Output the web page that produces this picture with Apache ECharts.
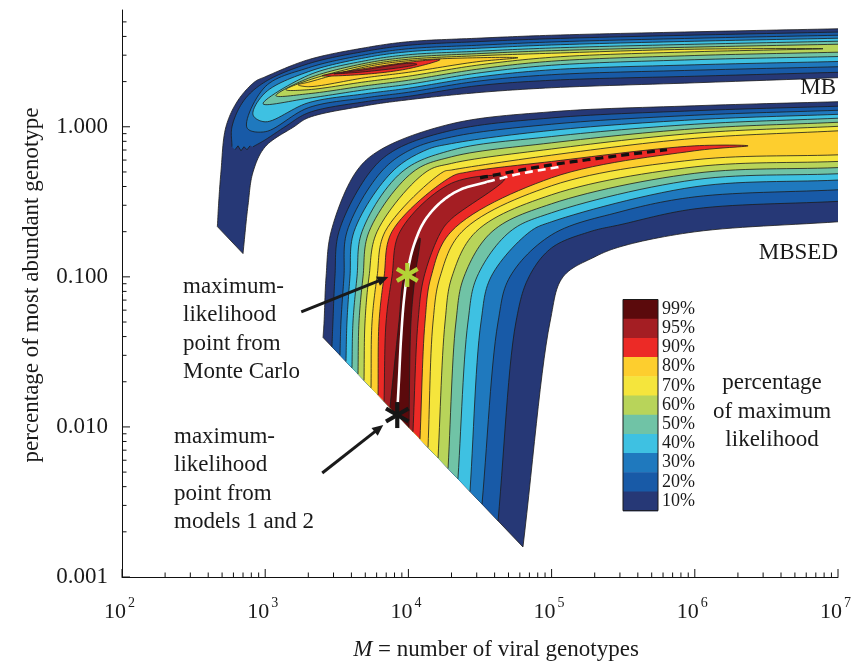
<!DOCTYPE html>
<html>
<head>
<meta charset="utf-8">
<script src="https://cdn.jsdelivr.net/npm/echarts@6/dist/echarts.min.js"></script>
<style>html,body{margin:0;padding:0;background:#fff}#c{width:861px;height:666px}</style>
</head>
<body>
<div id="c"></div>
<script>
// ================= DATA =================
const levelLabels = ['10%','20%','30%','40%','50%','60%','70%','80%','90%','95%','99%'];
const levelColors = ['#263876','#185aa7','#1f79be','#3ec1e2','#70c3a6','#b8d45a','#f5e53c','#fdce2e','#ec2a26','#a41e23','#5b0a0c'];

const xTickExponents = [2,3,4,5,6,7];
const yTickValues = [0.001,0.01,0.1,1];
const yTickLabels = ['0.001','0.010','0.100','1.000'];

// lower-left cut of both regions: M * p = 100
const cutProduct = 100;

// ---- MBSED region (rows: log10 M at fixed p ; columns: log10 p at fixed M) ----
const mbsedL_diag = [3.404,3.466,3.522,3.564,3.606,3.648,3.690,3.739,3.788,3.830];
const mbsedL_p005 = [3.411,3.473,3.529,3.571,3.613,3.655,3.697,3.746,3.795,3.844];
const mbsedL_p01  = [3.425,3.487,3.550,3.592,3.641,3.683,3.725,3.781,3.830,3.885];
const mbsedL_p02  = [3.460,3.515,3.571,3.620,3.676,3.725,3.781,3.837,3.885,3.941];
const mbsedL_p05  = [3.634,3.732,3.809,3.885,3.955,4.032,4.123,4.242,4.416,null];
const mbsedL_p07  = [3.802,3.906,4.011,4.123,null,null,null,null,null,null];
const mbsedL_M2e4 = [0.020,-0.024,-0.068,-0.112,-0.156,-0.200,-0.244,-0.288,-0.332,-0.376];
const mbsedL_M1e5 = [0.100,0.059,0.017,-0.024,-0.065,-0.107,-0.148,-0.189,-0.231,null];
const mbsedL_M1e6 = [0.140,0.107,0.077,0.047,0.017,-0.013,-0.043,-0.077,-0.127,null];
const mbsedL_M1e7 = [0.167,0.137,0.110,0.083,0.057,0.030,0.003,-0.027,null,null];
const mbsedR_diag = [4.800,4.626,4.514,4.430,4.346,4.277,4.207,4.137,4.081,4.032];
const mbsedR_p005 = [4.989,4.751,4.626,4.507,4.416,4.332,4.256,4.172,4.116,4.067];
const mbsedR_p01  = [5.080,4.842,4.709,4.577,4.479,4.388,4.304,4.221,4.158,4.109];
const mbsedR_p02  = [null,5.268,null,4.849,4.709,4.584,4.472,4.374,4.298,4.228];
const mbsedR_M2e4 = [null,null,null,null,null,null,null,null,null,-0.613];
const mbsedR_M1e5 = [null,-0.807,-0.720,-0.633,-0.573,-0.513,-0.453,-0.393,-0.340,null];
const mbsedR_M2e5 = [-0.867,null,null,null,null,null,null,null,null,null];
const mbsedR_M3e5 = [-0.800,-0.653,-0.567,null,null,null,null,null,null,null];
const mbsedR_M1e6 = [-0.700,-0.547,-0.467,-0.400,-0.353,-0.310,-0.267,-0.220,-0.160,null];
const mbsedR_M1e7 = [-0.633,-0.497,-0.420,-0.355,-0.313,-0.272,-0.231,-0.187,null,null];
const mbsed99_diag = [3.871,4.004];
const mbsed99_p005 = [3.934,4.018];
const mbsed99_p01  = [3.969,4.046];
const mbsedTip90 = [6.372,-0.127];
const mbsedTip95 = [4.675,-0.340];
const mbsedTip99 = [4.081,-0.740];
const ridgeSolid  = [[3.920,-1.94],[3.934,-1.687],[3.948,-1.42],[3.969,-1.153],[3.997,-0.953],[4.039,-0.787],[4.109,-0.633],[4.221,-0.507],[4.360,-0.42],[4.549,-0.367]];
const ridgeWhiteDash = [[4.549,-0.367],[4.779,-0.313],[5.059,-0.267]];
const ridgeBlackDash = [[4.500,-0.340],[4.954,-0.260],[5.408,-0.200],[5.806,-0.153]];
const mlMonteCarlo = [9820, 0.103];
const mlModels = [8360, 0.012];

// ---- MB region ----
const mbCols = [3, 3.301, 3.699, 4, 4.477, 5, 6, 7];          // log10 M
const mbTopTail = [[2.666,-0.665],[2.674,-0.523],[2.691,-0.301],[2.726,0],[2.810,0.176],[2.929,0.301]];
const mbTop     = [0.333,0.447,0.527,0.567,0.590,0.610,0.633,0.653];
const mbBotTail = [[2.845,-0.845],[2.880,-0.523],[2.915,-0.301],[3,-0.133],[3.201,0]];
const mbBot     = [null,0.06,0.14,0.18,0.227,0.26,0.293,0.327];
const mb20TopTail = [[2.768,-0.133],[2.768,0],[2.852,0.176]];
const mb20Top     = [0.30,0.42,0.503,0.543,0.567,0.587,0.611,0.631];
const mb20BotTail = [[2.915,-0.133],[3,-0.087],[3.138,0]];
const mb20Bot     = [null,0.093,0.167,0.203,0.273,0.31,0.337,0.363];
const mb20Jag = [[2.894,-0.127],[2.873,-0.153],[2.852,-0.133],[2.831,-0.16],[2.810,-0.127],[2.789,-0.153]];
const mbUpper = {
  2:[0.267,0.393,0.48,0.52,0.543,0.565,0.59,0.61],
  3:[0.227,0.367,0.46,0.50,0.523,0.545,0.57,0.59],
  4:[null,0.343,0.44,0.48,0.503,0.525,0.55,0.57],
  5:[null,0.323,0.423,0.463,0.487,0.507,0.531,0.55],
  6:[null,0.31,0.41,0.45,0.473,0.49,0.517,null],
  7:[null,0.297,0.399,0.44,0.46,null,null,null],
  8:[null,null,0.389,0.43,null,null,null,null],
  9:[null,null,0.381,0.423,null,null,null,null]
};
const mbLower = {
  2:[-0.033,0.127,0.193,0.23,0.303,0.347,0.377,0.40],
  3:[0.033,0.16,0.22,0.257,0.33,0.38,0.413,0.435],
  4:[null,0.19,0.247,0.283,0.357,0.41,0.447,0.468],
  5:[null,0.22,0.273,0.31,0.383,0.437,0.475,0.497],
  6:[null,0.247,0.30,0.337,0.41,0.463,0.50,null],
  7:[null,0.267,0.327,0.363,0.433,null,null,null],
  8:[null,null,0.35,0.387,null,null,null,null],
  9:[null,null,0.367,0.403,null,null,null,null]
};
const mbTipLeft  = {2:[2.873,-0.007],3:[2.915,0.08],4:[2.985,0.153],5:[3.075,0.207],6:[3.145,0.247],7:[3.229,0.28],8:[3.397,0.34],9:[3.480,0.353]};
const mbTipRight = {6:[6.895,0.52],7:[4.765,0.46],8:[4.221,0.447],9:[4.060,0.417]};

// ================= GEOMETRY BUILDING =================
const L10 = Math.log10;
const cutSum = L10(cutProduct);
function colPts(cols, arr) { const o = []; arr.forEach((v,i) => { if (v != null) o.push([cols[i], v]); }); return o; }
function sortAlong(p) { return p.sort((a,b) => (a[0]+a[1]) - (b[0]+b[1])); }
function mbsedCurve(k, side) {
  const S = side === 'L'
    ? {d:mbsedL_diag, rows:[[mbsedL_p005,L10(0.05)],[mbsedL_p01,L10(0.1)],[mbsedL_p02,L10(0.2)],[mbsedL_p05,L10(0.5)],[mbsedL_p07,L10(0.7)]],
       cols:[[mbsedL_M2e4,L10(2e4)],[mbsedL_M1e5,5],[mbsedL_M1e6,6],[mbsedL_M1e7,7]]}
    : {d:mbsedR_diag, rows:[[mbsedR_p005,L10(0.05)],[mbsedR_p01,L10(0.1)],[mbsedR_p02,L10(0.2)]],
       cols:[[mbsedR_M2e4,L10(2e4)],[mbsedR_M1e5,5],[mbsedR_M2e5,L10(2e5)],[mbsedR_M3e5,L10(3e5)],[mbsedR_M1e6,6],[mbsedR_M1e7,7]]};
  const p = [[S.d[k], cutSum - S.d[k]]];
  S.rows.forEach(([a,lp]) => { if (a[k] != null) p.push([a[k], lp]); });
  S.cols.forEach(([a,lm]) => { if (a[k] != null) p.push([lm, a[k]]); });
  return sortAlong(p);
}
const regions = [];
regions.push({level:0, parts:[{pts: mbTopTail.concat(colPts(mbCols, mbTop))}, {pts: mbBotTail.concat(colPts(mbCols, mbBot)).reverse()}], diag:true});
regions.push({level:1, parts:[{pts: mb20TopTail.concat(colPts(mbCols, mb20Top))}, {pts: mb20BotTail.concat(colPts(mbCols, mb20Bot)).reverse()}, {pts: mb20Jag, straight:true}]});
for (let k = 2; k <= 9; k++) {
  const U = colPts(mbCols, mbUpper[k]), W = colPts(mbCols, mbLower[k]);
  if (mbTipRight[k]) regions.push({level:k, parts:[{pts:[mbTipLeft[k]].concat(U, [mbTipRight[k]], W.slice().reverse()), closed:true}]});
  else regions.push({level:k, parts:[{pts: W.slice().reverse().concat([mbTipLeft[k]], U)}]});
}
for (let k = 0; k <= 9; k++) {
  const Lc = mbsedCurve(k,'L'), Rc = mbsedCurve(k,'R');
  const tip = k === 8 ? mbsedTip90 : (k === 9 ? mbsedTip95 : null);
  if (tip) regions.push({level:k, parts:[{pts: Lc.concat([tip], Rc.slice().reverse())}], diag: k === 0});
  else regions.push({level:k, parts:[{pts: Lc}, {pts: Rc.slice().reverse()}], diag: k === 0});
}
{
  const Lc = [[mbsed99_diag[0], cutSum - mbsed99_diag[0]],[mbsed99_p005[0],L10(0.05)],[mbsed99_p01[0],-1]];
  const Rc = [[mbsed99_diag[1], cutSum - mbsed99_diag[1]],[mbsed99_p005[1],L10(0.05)],[mbsed99_p01[1],-1]];
  regions.push({level:10, parts:[{pts: Lc.concat([mbsedTip99], Rc.slice().reverse())}]});
}

function smooth(pts, closed, seg) {
  const n = pts.length;
  if (n < 3) return pts.slice();
  const get = (i) => {
    if (closed) return pts[(i + n) % n];
    if (i < 0) return [2*pts[0][0]-pts[1][0], 2*pts[0][1]-pts[1][1]];
    if (i >= n) return [2*pts[n-1][0]-pts[n-2][0], 2*pts[n-1][1]-pts[n-2][1]];
    return pts[i];
  };
  const dd = (a,b) => Math.max(1e-3, Math.sqrt(Math.hypot(b[0]-a[0], b[1]-a[1])));
  const out = [];
  const spans = closed ? n : n - 1;
  for (let i = 0; i < spans; i++) {
    const p0 = get(i-1), p1 = get(i), p2 = get(i+1), p3 = get(i+2);
    const t0 = 0, t1 = dd(p0,p1), t2 = t1 + dd(p1,p2), t3 = t2 + dd(p2,p3);
    for (let j = 0; j < seg; j++) {
      const t = t1 + (t2 - t1) * j / seg;
      const lp = (a,b,ta,tb) => { const w = (t-ta)/(tb-ta); return [a[0]+(b[0]-a[0])*w, a[1]+(b[1]-a[1])*w]; };
      const A1 = lp(p0,p1,t0,t1), A2 = lp(p1,p2,t1,t2), A3 = lp(p2,p3,t2,t3);
      const B1 = lp(A1,A2,t0,t2), B2 = lp(A2,A3,t1,t3);
      out.push(lp(B1,B2,t1,t2));
    }
  }
  if (!closed) out.push(pts[n-1]);
  return out;
}
function px(api, p) { return api.coord([Math.pow(10, p[0]), Math.pow(10, p[1])]); }

const LINE = '#1c1c1c';
function renderRegion(params, api) {
  const r = regions[api.value(2)];
  const children = [];
  let poly = [];
  const strokes = [];
  r.parts.forEach(part => {
    const p = part.pts.map(q => px(api, q));
    const dense = part.straight ? p : smooth(p, !!part.closed, 14);
    poly = poly.concat(dense);
    strokes.push({pts: dense, closed: !!part.closed});
  });
  children.push({type:'polygon', shape:{points: poly}, style:{fill: levelColors[r.level], stroke: 'none'}, z2: r.level*2});
  strokes.forEach(s => children.push({type: s.closed ? 'polygon' : 'polyline', shape:{points: s.pts}, style:{fill:'none', stroke: LINE, lineWidth: 0.8}, z2: r.level*2 + 1}));
  if (r.diag) {
    const first = r.parts[0].pts[0], lastPart = r.parts[r.parts.length-1].pts, last = lastPart[lastPart.length-1];
    children.push({type:'line', shape:{x1: px(api,first)[0], y1: px(api,first)[1], x2: px(api,last)[0], y2: px(api,last)[1]}, style:{stroke: LINE, lineWidth: 0.8}, z2: 1});
  }
  return {type:'group', children};
}

const ridgeSets = [
  {pts: ridgeSolid, color:'#ffffff', width:2.6, dash:null},
  {pts: ridgeWhiteDash, color:'#ffffff', width:2.6, dash:[8,5]},
  {pts: ridgeBlackDash, color:'#111111', width:3.2, dash:[8,5]}
];
function renderRidge(params, api) {
  const s = ridgeSets[api.value(2)];
  const pts = smooth(s.pts.map(q => px(api,q)), false, 14);
  const style = {fill:'none', stroke: s.color, lineWidth: s.width};
  if (s.dash) style.lineDash = s.dash;
  return {type:'polyline', shape:{points: pts}, style};
}

const markerData = [[mlMonteCarlo[0], mlMonteCarlo[1], 0], [mlModels[0], mlModels[1], 1]];
function renderMarker(params, api) {
  const c = api.coord([api.value(0), api.value(1)]);
  const kind = api.value(2);
  const color = kind === 0 ? '#b4d336' : '#161616';
  const R = kind === 0 ? 12 : 13;
  const ch = [];
  [90, 30, -30].forEach(a => {
    const r = a * Math.PI / 180;
    ch.push({type:'line', shape:{x1:c[0]-R*Math.cos(r), y1:c[1]-R*Math.sin(r), x2:c[0]+R*Math.cos(r), y2:c[1]+R*Math.sin(r)}, style:{stroke:color, lineWidth: 4.2}});
  });
  const tip = kind === 0 ? [c[0]-19, c[1]+2] : [c[0]-14, c[1]+10];
  const tail = kind === 0 ? [c[0]-106, c[1]+37] : [c[0]-75, c[1]+58];
  const dx = tip[0]-tail[0], dy = tip[1]-tail[1], L = Math.hypot(dx,dy), ux = dx/L, uy = dy/L;
  const hl = 11, hw = 5;
  const base = [tip[0]-ux*hl, tip[1]-uy*hl];
  ch.push({type:'line', shape:{x1:tail[0], y1:tail[1], x2:base[0]+ux*2, y2:base[1]+uy*2}, style:{stroke:'#1a1a1a', lineWidth:3}});
  ch.push({type:'polygon', shape:{points:[tip, [base[0]-uy*hw, base[1]+ux*hw], [base[0]+uy*hw, base[1]-ux*hw]]}, style:{fill:'#1a1a1a'}});
  return {type:'group', children: ch};
}

const minorMantissas = [2,3,4,5,6,7,8,9];
const tickData = [];
xTickExponents.forEach(e => tickData.push([Math.pow(10,e), 0.001, 0]));
xTickExponents.slice(0,-1).forEach(e => minorMantissas.forEach(m => tickData.push([m*Math.pow(10,e), 0.001, 1])));
yTickValues.forEach(v => tickData.push([100, v, 2]));
yTickValues.slice(0,-1).forEach(v => minorMantissas.forEach(m => tickData.push([100, m*v, 3])));
[2,3,4,5].forEach(m => tickData.push([100, m, 3]));
function renderTick(params, api) {
  const c = api.coord([api.value(0), api.value(1)]);
  const k = api.value(2);
  const len = (k === 0 || k === 2) ? 8 : 4.5;
  const shape = k < 2 ? {x1:c[0], y1:c[1], x2:c[0], y2:c[1]-len} : {x1:c[0], y1:c[1], x2:c[0]+len, y2:c[1]};
  return {type:'line', shape, style:{stroke:'#111', lineWidth:1}};
}

const FONT = 'Liberation Serif';
const TXT = '#1a1a1a';
const xLabelData = xTickExponents.map(e => [Math.pow(10,e), 0.001, e]);
function renderXLabel(params, api) {
  const c = api.coord([api.value(0), api.value(1)]);
  const e = api.value(2);
  return {type:'group', children:[
    {type:'text', style:{text:'10', x:c[0]-7, y:c[1]+35, font:'22px ' + FONT, fill:TXT, textAlign:'center', textVerticalAlign:'middle', align:'center', verticalAlign:'middle'}},
    {type:'text', style:{text:String(e), x:c[0]+9.5, y:c[1]+26, font:'14px ' + FONT, fill:TXT, textAlign:'center', textVerticalAlign:'middle', align:'center', verticalAlign:'middle'}}
  ]};
}

const chart = echarts.init(document.getElementById('c'), null, {renderer:'canvas'});

const legendTop = 299.5, legendH = 19.2, legendX = 623, legendW = 35;
const graphics = [];
for (let i = 0; i < levelColors.length; i++) {
  const idx = levelColors.length - 1 - i;
  graphics.push({type:'rect', shape:{x:legendX, y:legendTop + i*legendH, width:legendW, height:legendH + 0.5}, style:{fill: levelColors[idx]}});
  graphics.push({type:'text', style:{text: levelLabels[idx], x: legendX + legendW + 4, y: legendTop + (i+0.5)*legendH, font: '18px ' + FONT, fill: TXT, textAlign:'left', textVerticalAlign:'middle', align:'left', verticalAlign:'middle'}});
}
graphics.push({type:'rect', shape:{x:legendX, y:legendTop, width:legendW, height:legendH*levelColors.length}, style:{fill:'none', stroke:'#1a1a1a', lineWidth:1}});
function txt(t, x, y, align, size) {
  return {type:'text', style:{text:t, x, y, font: (size||23) + 'px ' + FONT, fill: TXT, textAlign: align||'left', textVerticalAlign:'middle', align: align||'left', verticalAlign:'middle'}};
}
['percentage','of maximum','likelihood'].forEach((t,i) => graphics.push(txt(t, 772, 383 + i*28.5, 'center')));
['maximum-','likelihood','point from','Monte Carlo'].forEach((t,i) => graphics.push(txt(t, 183, 287 + i*28.4, 'left')));
['maximum-','likelihood','point from','models 1 and 2'].forEach((t,i) => graphics.push(txt(t, 174, 437 + i*28.4, 'left')));
graphics.push(txt('MB', 836, 88, 'right'));
graphics.push(txt('MBSED', 838, 253, 'right'));
graphics.push({type:'text', style:{text:'{i|M}{n| = number of viral genotypes}', x: 496, y: 650, textAlign:'center', textVerticalAlign:'middle', align:'center', verticalAlign:'middle',
  rich:{i:{fontStyle:'italic', fontFamily:FONT, fontSize:23, fill:TXT, color:TXT}, n:{fontFamily:FONT, fontSize:23, fill:TXT, color:TXT}}}});
graphics.push({type:'text', rotation: Math.PI/2, x: 32, y: 285, style:{text:'percentage of most abundant genotype', x:0, y:0, font:'23px ' + FONT, fill:TXT, textAlign:'center', textVerticalAlign:'middle', align:'center', verticalAlign:'middle'}});

const option = {
  animation: false,
  backgroundColor: '#ffffff',
  grid: {left:122, right:23, top:10, bottom:89, containLabel:false},
  xAxis: {
    type:'log', logBase:10, min:100, max:1e7,
    axisLine:{show:true, onZero:false, lineStyle:{color:'#111', width:1}},
    axisTick:{show:false}, splitLine:{show:false}, minorTick:{show:false},
    axisLabel:{show:false}
  },
  yAxis: {
    type:'log', logBase:10, min:0.001, max:6,
    axisLine:{show:true, onZero:false, lineStyle:{color:'#111', width:1}},
    axisTick:{show:false}, splitLine:{show:false}, minorTick:{show:false},
    axisLabel:{
      margin: 14, fontFamily:FONT, fontSize:23, color:TXT,
      formatter: (v) => { const i = yTickValues.findIndex(t => Math.abs(L10(t) - L10(v)) < 1e-6); return i >= 0 ? yTickLabels[i] : ''; }
    }
  },
  graphic: graphics,
  series: [
    {type:'custom', name:'contours', renderItem: renderRegion, data: regions.map((r,i) => [1000, 1, i]), z:2, silent:true, clip:true},
    {type:'custom', name:'ridge', renderItem: renderRidge, data: ridgeSets.map((r,i) => [1000, 1, i]), z:3, silent:true, clip:true},
    {type:'custom', name:'ml points', renderItem: renderMarker, data: markerData, z:4, silent:true, clip:false},
    {type:'custom', name:'ticks', renderItem: renderTick, data: tickData, z:5, silent:true, clip:false},
    {type:'custom', name:'x labels', renderItem: renderXLabel, data: xLabelData, z:5, silent:true, clip:false}
  ]
};
chart.setOption(option);
</script>
</body>
</html>
